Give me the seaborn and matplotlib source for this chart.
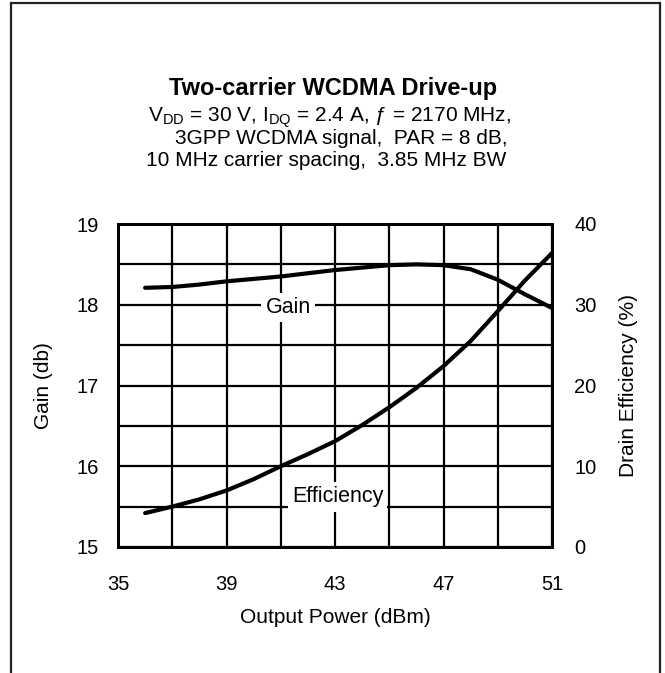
import matplotlib
matplotlib.use("Agg")
import matplotlib.pyplot as plt
import seaborn as sns
from matplotlib.patches import Rectangle

# -------------------------
# Data
# -------------------------

power = [36, 37, 38, 39, 40, 41, 42, 43, 44, 45, 46, 47, 48, 49, 50, 51]

gain = [18.21, 18.22, 18.25, 18.29, 18.32, 18.35, 18.39, 18.43,
        18.46, 18.49, 18.50, 18.49, 18.44, 18.31, 18.13, 17.96]

efficiency = [4.2, 5.0, 5.9, 7.0, 8.4, 10.0, 11.5, 13.1,
              15.1, 17.3, 19.7, 22.4, 25.5, 29.2, 33.0, 36.4]

x_ticks = [35, 39, 43, 47, 51]
x_minor = [37, 41, 45, 49]
gain_ticks = [15, 16, 17, 18, 19]
gain_minor = [15.5, 16.5, 17.5, 18.5]
eff_ticks = [0, 10, 20, 30, 40]

sns.set_style("white")
plt.rcParams["font.family"] = ["Liberation Sans", "DejaVu Sans"]
plt.rcParams["mathtext.fontset"] = "custom"
plt.rcParams["mathtext.rm"] = "Liberation Sans"
plt.rcParams["text.color"] = "black"
plt.rcParams["axes.labelcolor"] = "black"

W, H = 665, 673
fig = plt.figure(figsize=(W / 100, H / 100), dpi=100)

ax = fig.add_axes([118 / W, 1 - 547 / H, (552 - 118) / W, (547 - 224) / H])
ax2 = ax.twinx()

line_kw = dict(color="black", linewidth=3,
               solid_capstyle="round", solid_joinstyle="round")
sns.lineplot(x=power, y=gain, ax=ax, **line_kw)
sns.lineplot(x=power, y=efficiency, ax=ax2, **line_kw)

ax.set_xlim(35, 51)
ax.set_ylim(15, 19)
ax2.set_ylim(0, 40)

ax.set_xticks(x_ticks)
ax.set_xticks(x_minor, minor=True)
ax.set_yticks(gain_ticks)
ax.set_yticks(gain_minor, minor=True)
ax2.set_yticks(eff_ticks)

ax.grid(True, which="both", color="black", linewidth=1.6)
ax2.grid(False)

for a in (ax, ax2):
    a.tick_params(which="both", length=0, labelsize=14.5, colors="black")
    for s in a.spines.values():
        s.set_color("black")
        s.set_linewidth(2)

ax.tick_params(axis="x", pad=20)
ax.tick_params(axis="y", pad=14)
ax2.tick_params(axis="y", pad=16)

ax.set_xlabel("Output Power (dBm)", fontsize=15)
ax.xaxis.set_label_coords(0.5, -0.19)
ax.set_ylabel("Gain (db)", fontsize=15)
ax.yaxis.set_label_coords(-0.15, 0.5)
ax2.set_ylabel("Drain Efficiency (%)", fontsize=15, rotation=90)
ax2.yaxis.set_label_coords(1.155, 0.5)

box = dict(facecolor="white", edgecolor="none", pad=3)
ax2.text(41.27, 29.7, "Gain", ha="center", va="center", fontsize=15.5,
         bbox=box, zorder=5)
ax2.text(43.1, 6.2, "Efficiency", ha="center", va="center", fontsize=15.5,
         bbox=box, zorder=5)

# titles
fig.text(333 / W, 1 - 88 / H, "Two-carrier WCDMA Drive-up",
         ha="center", va="center", fontsize=17, fontweight="bold")
fig.text(330 / W, 1 - 118 / H,
         r"V$_{\mathrm{DD}}$ = 30 V, I$_{\mathrm{DQ}}$ = 2.4 A, ƒ = 2170 MHz,",
         ha="center", va="center", fontsize=15)
fig.text(341 / W, 1 - 139 / H, "3GPP WCDMA signal,  PAR = 8 dB,",
         ha="center", va="center", fontsize=15)
fig.text(326 / W, 1 - 161 / H, "10 MHz carrier spacing,  3.85 MHz BW",
         ha="center", va="center", fontsize=15)

# outer frame, open at the bottom
fig.add_artist(Rectangle((11 / W, -0.05), (660 - 11) / W, 1.05 - 3 / H,
                         transform=fig.transFigure, fill=False,
                         edgecolor="#222222", linewidth=1.6))

plt.savefig("out.png", dpi=100)
